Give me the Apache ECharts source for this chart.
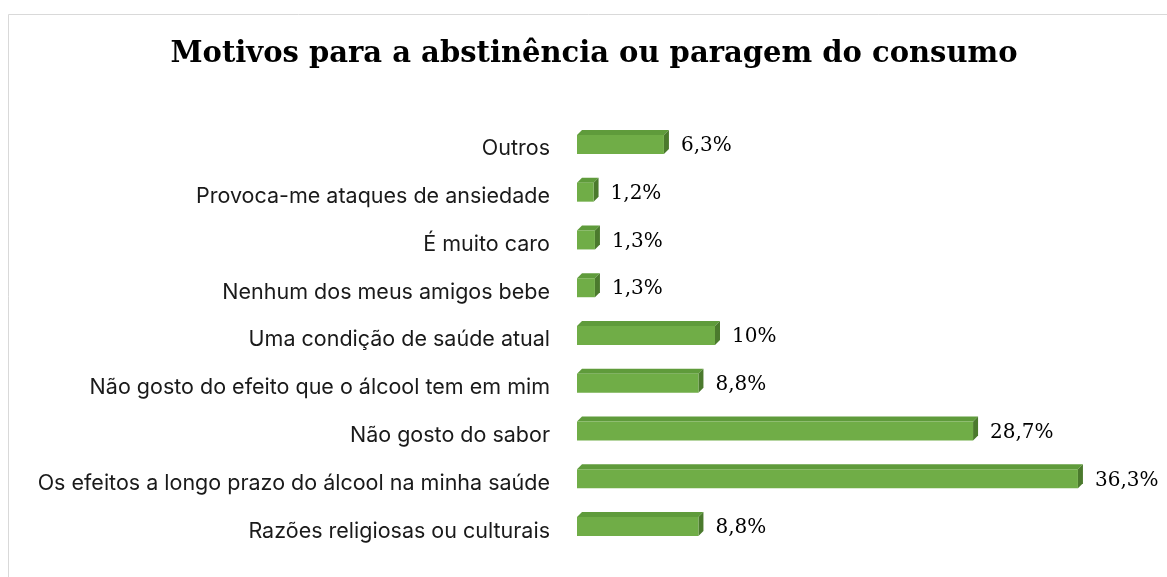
<!DOCTYPE html>
<html>
<head>
<meta charset="utf-8">
<script src="https://cdn.jsdelivr.net/npm/echarts@6/dist/echarts.min.js"></script>
<style>
  html, body { margin: 0; padding: 0; background: #ffffff; }
  #chart { width: 1167px; height: 577px; }
</style>
</head>
<body>
<div id="chart"></div>
<script>
// Reasons for abstaining or stopping consumption (share of respondents, %)
const chartTitle = 'Motivos para a abstinência ou paragem do consumo';
const categories = [
  'Outros',
  'Provoca-me ataques de ansiedade',
  'É muito caro',
  'Nenhum dos meus amigos bebe',
  'Uma condição de saúde atual',
  'Não gosto do efeito que o álcool tem em mim',
  'Não gosto do sabor',
  'Os efeitos a longo prazo do álcool na minha saúde',
  'Razões religiosas ou culturais'
];
const values = [6.3, 1.2, 1.3, 1.3, 10, 8.8, 28.7, 36.3, 8.8];

const FRONT = '#70ad47';
const TOP = '#5f9b3b';
const SIDE = '#4b7a2d';
const DEPTH = 5;

function formatPct(v) {
  return String(v).replace('.', ',') + '%';
}

// Draws a simple extruded bar: front face, top face and right side face
function renderBar3D(params, api) {
  const idx = api.value(0);
  const val = api.value(1);
  const start = api.coord([0, idx]);
  const end = api.coord([val, idx]);
  const x0 = start[0];
  const x1 = end[0];
  const cy = start[1];
  const ft = cy - 14;
  const fb = cy + 5;
  const d = DEPTH;
  return {
    type: 'group',
    children: [
      {
        type: 'polygon',
        shape: { points: [[x0, ft], [x1, ft], [x1 + d, ft - d], [x0 + d, ft - d]] },
        style: { fill: TOP }
      },
      {
        type: 'polygon',
        shape: { points: [[x1, ft], [x1 + d, ft - d], [x1 + d, fb - d], [x1, fb]] },
        style: { fill: SIDE }
      },
      {
        type: 'rect',
        shape: { x: x0, y: ft, width: x1 - x0, height: fb - ft },
        style: { fill: FRONT }
      },
      {
        type: 'text',
        x: x1 + d + 12,
        y: cy - 3,
        style: {
          text: formatPct(val),
          fill: '#000000',
          font: '20px "DejaVu Serif"',
          textAlign: 'left',
          textVerticalAlign: 'middle'
        }
      }
    ]
  };
}

const chart = echarts.init(document.getElementById('chart'), null, { renderer: 'canvas' });
chart.setOption({
  backgroundColor: '#ffffff',
  animation: false,
  graphic: [
    {
      type: 'rect',
      shape: { x: 8.5, y: 14.5, width: 1200, height: 600 },
      style: { fill: 'none', stroke: '#d9d9d9', lineWidth: 1 },
      silent: true
    },
    {
      type: 'text',
      x: 594,
      y: 54,
      style: {
        text: chartTitle,
        font: 'bold 29px "DejaVu Serif"',
        fill: '#000000',
        textAlign: 'center',
        textVerticalAlign: 'middle'
      }
    }
  ],
  grid: { left: 577, right: 38, top: 125, bottom: 22, containLabel: false },
  xAxis: {
    type: 'value',
    min: 0,
    max: 40,
    show: false
  },
  yAxis: {
    type: 'category',
    data: categories,
    inverse: true,
    axisLine: { show: false },
    axisTick: { show: false },
    axisLabel: {
      margin: 27,
      color: '#1a1a1a',
      fontSize: 21.5,
      fontFamily: 'Inter'
    }
  },
  series: [
    {
      type: 'custom',
      renderItem: renderBar3D,
      data: values.map((v, i) => [i, v]),
      encode: { x: 1, y: 0 }
    }
  ]
});
</script>
</body>
</html>
